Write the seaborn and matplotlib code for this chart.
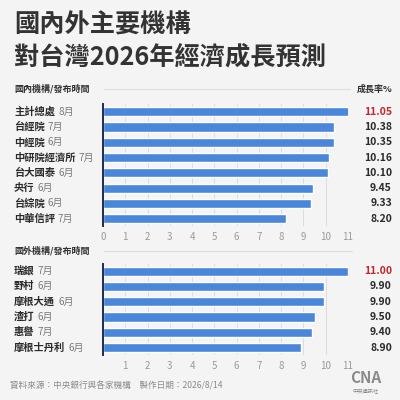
import matplotlib
matplotlib.use("Agg")
import matplotlib.pyplot as plt
import matplotlib.transforms as mtransforms
import seaborn as sns
import pandas as pd

# ---- data ----
dom_names = ["主計總處", "台經院", "中經院", "中研院經濟所", "台大國泰", "央行", "台綜院", "中華信評"]
dom_months = ["8月", "7月", "6月", "7月", "6月", "6月", "6月", "7月"]
dom_values = [11.05, 10.38, 10.35, 10.16, 10.10, 9.45, 9.33, 8.20]

for_names = ["瑞銀", "野村", "摩根大通", "渣打", "惠譽", "摩根士丹利"]
for_months = ["7月", "6月", "6月", "6月", "7月", "6月"]
for_values = [11.00, 9.90, 9.90, 9.50, 9.40, 8.90]

title_lines = ["國內外主要機構", "對台灣2026年經濟成長預測"]
dom_header = "國內機構/發布時間"
for_header = "國外機構/發布時間"
unit_label = "成長率%"
footer = "資料來源：中央銀行與各家機構　製作日期：2026/8/14"

sns.set_style("white")
plt.rcParams["font.family"] = ["Noto Sans CJK TC", "DejaVu Sans"]

BG = "#f4f4f4"
BAR = "#4a87da"
SPINE = "#1e2b4a"
DARK = "#2b2b2b"
GREY = "#7a7a7a"
RED = "#c0282d"

fig = plt.figure(figsize=(4, 4), dpi=100, facecolor=BG)

def px_x(p):
    return p / 400.0

def px_y(p):
    return 1 - p / 400.0

# title
fig.text(px_x(14), px_y(25), title_lines[0], fontsize=18.2, fontweight="bold",
         color="#333333", va="center", ha="left")
fig.text(px_x(14), px_y(57), title_lines[1], fontsize=18.2, fontweight="bold",
         color="#333333", va="center", ha="left")


def panel(top_px, names, months, values, header, header_y, show_zero, show_unit):
    n = len(values)
    step = 15.3
    height_px = step * n
    ax = fig.add_axes([px_x(103), px_y(top_px + height_px), 245 / 400, height_px / 400])
    ax.set_facecolor(BG)
    df = pd.DataFrame({"name": names, "value": values})
    sns.barplot(data=df, x="value", y="name", orient="h", color=BAR,
                width=0.6, saturation=1, ax=ax, zorder=3)
    ax.set_xlim(0, 11)
    ax.set_ylim(n - 0.5, -0.5)
    ax.set_xlabel("")
    ax.set_ylabel("")
    ticks = list(range(0, 12)) if show_zero else list(range(1, 12))
    ax.set_xticks(ticks)
    ax.set_xticklabels([str(t) for t in ticks], fontsize=7, color="#9a9a9a")
    ax.tick_params(axis="x", length=0, pad=4)
    ax.set_yticks([])
    for t in range(1, 12):
        ax.axvline(t, color="#dcdcdc", linewidth=0.7, zorder=0)
    for s in ["top", "right", "bottom"]:
        ax.spines[s].set_visible(False)
    ax.spines["left"].set_color(SPINE)
    ax.spines["left"].set_linewidth(1.4)
    ax.spines["left"].set_zorder(5)

    tr = mtransforms.blended_transform_factory(fig.transFigure, ax.transData)
    renderer = fig.canvas.get_renderer()
    for i, (nm, mo, v) in enumerate(zip(names, months, values)):
        t = ax.text(px_x(14), i, nm, transform=tr, fontsize=7.4, fontweight="bold",
                    color=DARK, va="center", ha="left")
        bb = t.get_window_extent(renderer=renderer)
        x_end = bb.x1 / fig.bbox.width
        ax.text(x_end + 3 / 400, i, mo, transform=tr, fontsize=7.2,
                color=GREY, va="center", ha="left")
        ax.text(px_x(392), i, f"{v:.2f}", transform=tr, fontsize=7.5,
                fontweight="bold", color=RED if i == 0 else DARK,
                va="center", ha="right")

    fig.text(px_x(14), px_y(header_y), header, fontsize=6.5, fontweight="bold",
             color="#333333", va="center", ha="left")
    line_end = 350 if show_unit else 352
    fig.add_artist(plt.Line2D([px_x(104), px_x(line_end)], [px_y(header_y)] * 2,
                              color="#dddddd", linewidth=0.8))
    if show_unit:
        fig.text(px_x(392), px_y(header_y), unit_label, fontsize=6.5, fontweight="bold",
                 color="#333333", va="center", ha="right")
    return ax


panel(104, dom_names, dom_months, dom_values, dom_header, 89, True, True)
panel(263.5, for_names, for_months, for_values, for_header, 251, False, False)

fig.text(px_x(10), px_y(386), footer, fontsize=6.2, color="#8a8a8a",
         va="center", ha="left")
fig.text(px_x(366), px_y(378), "CNA", fontsize=11, fontweight="bold",
         color="#8a8a8a", va="center", ha="center")
fig.text(px_x(366), px_y(392), "中央通訊社", fontsize=3.8,
         color="#8a8a8a", va="center", ha="center")

fig.savefig("out.png", dpi=100, facecolor=BG)
